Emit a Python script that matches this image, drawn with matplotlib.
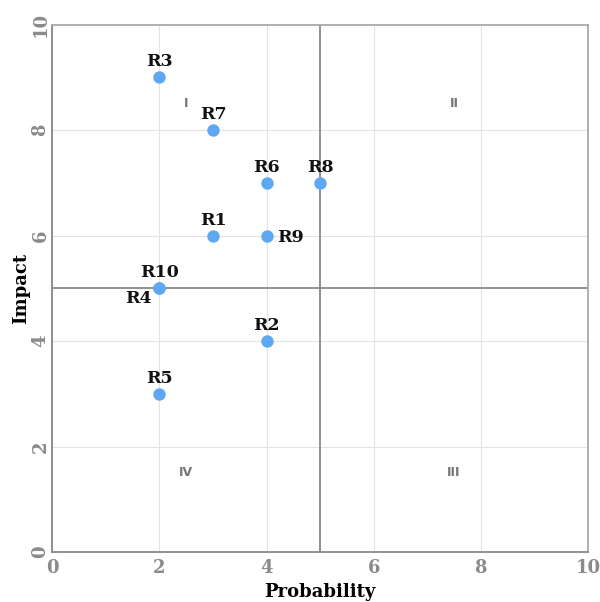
import matplotlib
matplotlib.use("Agg")
import matplotlib.pyplot as plt

# Risk register: probability vs impact
names = ["R1", "R2", "R3", "R4", "R5", "R6", "R7", "R8", "R9", "R10"]
probability = [3, 4, 2, 2, 2, 4, 3, 5, 4, 2]
impact = [6, 4, 9, 5, 3, 7, 8, 7, 6, 5]

quad_labels = ["I", "II", "III", "IV"]
quad_x = [2.5, 7.5, 7.5, 2.5]
quad_y = [8.5, 8.5, 1.5, 1.5]

ticks = [0, 2, 4, 6, 8, 10]

# label offsets in points (most sit above the dot)
offsets = {"R9": (17, -1), "R4": (-15, -7)}

plt.rcParams['font.family'] = ['DejaVu Serif']

fig = plt.figure(figsize=(6, 6.02), dpi=100)
ax = fig.add_axes([0.087, 0.083, 0.893, 0.876])

ax.set_xlim(0, 10)
ax.set_ylim(0, 10)
ax.set_xticks(ticks)
ax.set_yticks(ticks)
ax.grid(True, color="#e3e3e3", linewidth=0.8)
ax.set_axisbelow(True)

# quadrant dividers
ax.axvline(5, color="#888888", linewidth=1.3, zorder=1)
ax.axhline(5, color="#888888", linewidth=1.3, zorder=1)

for lab, qx, qy in zip(quad_labels, quad_x, quad_y):
    ax.text(qx, qy, lab, ha="center", va="center", fontsize=9, color="#777777",
            fontweight="bold", family="DejaVu Sans")

ax.scatter(probability, impact, s=80, color="#5ea8f2", zorder=3, linewidths=0)

for n, px, py in zip(names, probability, impact):
    dx, dy = offsets.get(n, (0, 5))
    ax.annotate(n, (px, py), xytext=(dx, dy), textcoords="offset points",
                ha="center", va="bottom" if dy > 0 else "center",
                fontsize=12.5, fontweight="bold", color="#111111", zorder=4)

for side in ["left", "bottom"]:
    ax.spines[side].set_color("#888888")
    ax.spines[side].set_linewidth(1.3)
for side in ["right", "top"]:
    ax.spines[side].set_color("#aaaaaa")
    ax.spines[side].set_linewidth(1.3)

ax.tick_params(axis="both", length=0, labelsize=13, labelcolor="#8a8a8a")
ax.tick_params(axis="x", pad=5)
ax.tick_params(axis="y", pad=2)
for t in ax.get_xticklabels() + ax.get_yticklabels():
    t.set_fontweight("bold")
for t in ax.get_yticklabels():
    t.set_rotation(90)
    t.set_va("center")

ax.set_xlabel("Probability", fontsize=13, fontweight="bold", labelpad=4)
ax.set_ylabel("Impact", fontsize=13, fontweight="bold", labelpad=1)

fig.savefig("out.png", dpi=100)
